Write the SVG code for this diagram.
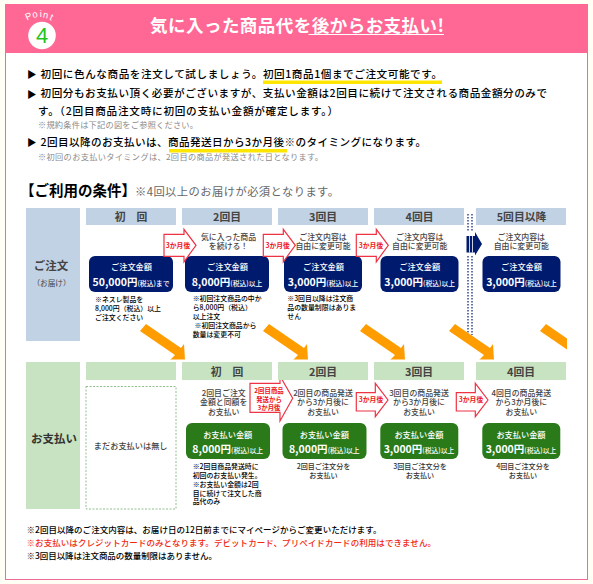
<svg xmlns="http://www.w3.org/2000/svg" width="593" height="584" viewBox="0 0 593 584">
<defs>
<style>
text{font-family:"Noto Sans CJK JP","Liberation Sans",sans-serif;fill:#333}
.b{font-weight:700}
.k{fill:#000;font-size:10.6px;font-weight:500}
.a{fill:#000;font-size:9.5px}
.s{fill:#8a8a8a;font-size:8.2px}
.m{text-anchor:middle}
.h{font-size:10.8px;font-weight:700;fill:#444;text-anchor:middle}
.d{font-size:7.9px;fill:#444;text-anchor:middle;font-weight:500}
.w{fill:#fff;text-anchor:middle}
.l{fill:#fff;text-anchor:middle;font-size:8.2px;font-weight:500}
.v{fill:#fff;text-anchor:middle;font-size:10.5px;font-weight:700}
.x{fill:#fff;font-size:6.8px;font-weight:500}
.t{fill:#000;font-size:6.9px;font-weight:500}
.r{fill:#fff;stroke:#ee3344;stroke-width:1.2}
.rt{fill:#f01020;font-size:6.8px;font-weight:700;text-anchor:middle}
.ru{fill:#f01020;font-size:6.4px;font-weight:700;text-anchor:middle}
.u{font-size:7.1px;fill:#333;text-anchor:middle;font-weight:500}
.n{fill:#000;font-size:8.5px;font-weight:500}
</style>
<clipPath id="oc"><rect x="80" y="300" width="487" height="59.500"/></clipPath>
<polygon id="oa" points="1,-1 36,23 39,19 40,35 25,35 30,30 -5,6"/>
<polygon id="ra" class="r" points="0,5 20,5 20,0 32,16 20,32.500 20,27 0,27"/>
</defs>
<rect width="593" height="584" fill="#fffff5"/>
<rect id="frame" x="5.500" y="4.500" width="582" height="575" fill="#fff" stroke="#ef6c9a" stroke-width="1"/>
<g id="header">
<rect x="5" y="4" width="583" height="49" fill="#ff6795"/>
<circle cx="42" cy="35.500" r="13.800" fill="#fff"/>
<text x="42" y="43" class="m" style="fill:#1fc41f;font-size:22px;font-family:'Liberation Sans',sans-serif">4</text>
<text x="27 33 39.800 42.500 49" y="20.500 18 17 17.500 19.500" rotate="-25 -12 0 12 25" style="fill:#fff;font-size:9.500px;font-family:'Liberation Sans',sans-serif">Point</text>
<text x="150" y="32" class="b" style="fill:#fff;font-size:17.500px" textLength="294" lengthAdjust="spacing">気に入った商品代を後からお支払い!</text>
<rect x="308.500" y="34" width="135.500" height="1" fill="#fff"/>
</g>
<g id="intro">
<rect x="263" y="80.500" width="179" height="3.500" fill="#ffe600"/>
<rect x="169" y="149" width="118" height="3.500" fill="#ffe600"/>
<text x="27" y="78" class="a">▶</text>
<text x="40.500" y="77.500" class="k" textLength="401.500" lengthAdjust="spacing">初回に色んな商品を注文して試しましょう。初回1商品1個までご注文可能です。</text>
<text x="27" y="97.500" class="a">▶</text>
<text x="40.500" y="97" class="k" textLength="506.500" lengthAdjust="spacing">初回分もお支払い頂く必要がございますが、支払い金額は2回目に続けて注文される商品金額分のみで</text>
<text x="38" y="114.500" class="k" textLength="300" lengthAdjust="spacing">す。（2回目商品注文時に初回の支払い金額が確定します。）</text>
<text x="38" y="128" class="s" textLength="160" lengthAdjust="spacing">※規約条件は下記の図をご参照ください。</text>
<text x="27" y="146" class="a">▶</text>
<text x="40.500" y="145.700" class="k" textLength="385.500" lengthAdjust="spacing">2回目以降のお支払いは、商品発送日から3か月後※のタイミングになります。</text>
<text x="38" y="160" class="s" textLength="285" lengthAdjust="spacing">※初回のお支払いタイミングは、2回目の商品が発送された日となります。</text>
</g>
<g id="condition-title">
<text x="20" y="196" class="b" style="fill:#000;font-size:14.500px">【ご利用の条件】</text>
<text x="135" y="196" style="fill:#666;font-size:11.300px" textLength="204" lengthAdjust="spacing">※4回以上のお届けが必須となります。</text>
</g>
<g id="order-row">
<rect x="26" y="208" width="54" height="133" fill="#c1d2e4"/>
<text x="51" y="270" class="m b" style="font-size:11.500px;fill:#444">ご注文</text>
<text x="51.500" y="286" class="m" style="font-size:7.600px;fill:#444">（お届け）</text>
<g fill="#c1d2e4">
<rect x="86" y="208" width="90" height="17"/><rect x="182" y="208" width="90" height="17"/><rect x="278" y="208" width="90" height="17"/><rect x="374" y="208" width="90" height="17"/><rect x="476" y="208" width="90" height="17"/>
</g>
<text x="131" y="221" class="h">初　回</text>
<text x="227" y="221" class="h">2回目</text>
<text x="323" y="221" class="h">3回目</text>
<text x="419.500" y="221" class="h">4回目</text>
<text x="521.500" y="221" class="h">5回目以降</text>
<text x="228.500" y="239.500" class="d">気に入った商品</text><text x="228.500" y="249" class="d">を続ける！</text>
<text x="323" y="239.500" class="d">ご注文内容は</text><text x="323" y="249" class="d">自由に変更可能</text>
<text x="419.700" y="239.500" class="d">ご注文内容は</text><text x="419.700" y="249" class="d">自由に変更可能</text>
<text x="521.300" y="239.500" class="d">ご注文内容は</text><text x="521.300" y="249" class="d">自由に変更可能</text>
</g>
<g id="order-amounts">
<g fill="#001a6e">
<rect x="89" y="256" width="84" height="36" rx="6"/><rect x="185" y="256" width="84" height="36" rx="6"/><rect x="284" y="256" width="78" height="36" rx="6"/><rect x="380.500" y="256" width="78" height="36" rx="6"/><rect x="482.500" y="256" width="78" height="36" rx="6"/>
</g>
<text x="131.500" y="270" class="l">ご注文金額</text>
<text x="131" y="286" class="v">50,000円<tspan class="x">(税込)まで</tspan></text>
<text x="227.500" y="270" class="l">ご注文金額</text>
<text x="227" y="286" class="v">8,000円<tspan class="x">(税込)以上</tspan></text>
<text x="323.500" y="270" class="l">ご注文金額</text>
<text x="323" y="286" class="v">3,000円<tspan class="x">(税込)以上</tspan></text>
<text x="419.700" y="270" class="l">ご注文金額</text>
<text x="419.700" y="286" class="v">3,000円<tspan class="x">(税込)以上</tspan></text>
<text x="521.500" y="270" class="l">ご注文金額</text>
<text x="521.500" y="286" class="v">3,000円<tspan class="x">(税込)以上</tspan></text>
</g>
<g id="order-notes">
<text x="95" y="301.700" class="t">※ネスレ製品を</text>
<text x="95" y="310.700" class="t">8,000円（税込）以上</text>
<text x="95" y="319.500" class="t">ご注文ください</text>
<text x="192.700" y="301" class="t">※初回注文商品の中か</text>
<text x="192.700" y="310" class="t">ら8,000円（税込）</text>
<text x="192.700" y="319" class="t">以上注文</text>
<text x="194.500" y="328.300" class="t">※初回注文商品から</text>
<text x="192.700" y="337" class="t">数量は変更不可</text>
<text x="287.300" y="301" class="t">※3回目以降は注文商</text>
<text x="287.300" y="310" class="t">品の数量制限はありま</text>
<text x="287.300" y="319" class="t">せん</text>
</g>
<g id="connectors">
<g stroke="#001a6e" stroke-width="1.200" stroke-dasharray="1.500 1.500" fill="none">
<path d="M468,214V232M472,214V232M468,256V335M472,256V335"/>
</g>
<g clip-path="url(#oc)" fill="#ff9c00">
<use href="#oa" x="145" y="325"/><use href="#oa" x="268" y="325"/><use href="#oa" x="365" y="325"/><use href="#oa" x="454" y="325"/><use href="#oa" x="545" y="325"/>
</g>
<use href="#ra" x="164" y="229.300"/><use href="#ra" x="263.300" y="229.300"/><use href="#ra" x="356.300" y="229.300"/>
<path d="M250,383.300H280V376L292.700,398.300L280,421V412.300H250Z" class="r"/>
<path d="M356.300,392.700H375.300V383.300L388,400L375.300,416.700V411H356.300Z" class="r"/>
<path d="M456.300,392.700H475.300V383.300L488,400L475.300,416.700V411H456.300Z" class="r"/>
<path d="M466.500,236H475V232L482,244L475,255.500V252.500H466.500Z" fill="#001a6e"/>
<path d="M469.500,236V252.500M472.500,236V252.500" stroke="#fff" stroke-width="0.800"/>
<text x="178" y="247.700" class="rt">3か月後</text>
<text x="277.700" y="247.700" class="rt">3か月後</text>
<text x="371" y="247.700" class="rt">3か月後</text>
<text x="269" y="393" class="ru">2回目商品</text>
<text x="269" y="401.700" class="ru">発送から</text>
<text x="269" y="410" class="ru">3か月後</text>
<text x="371" y="402" class="rt">3か月後</text>
<text x="471" y="402" class="rt">3か月後</text>
</g>
<g id="payment-row">
<rect x="26" y="362" width="54" height="147" fill="#c7e3c1"/>
<text x="54" y="443" class="m b" style="font-size:11.500px;fill:#333">お支払い</text>
<g fill="#c7e3c1">
<rect x="86" y="362" width="90" height="18"/><rect x="182" y="362" width="90" height="18"/><rect x="278" y="362" width="90" height="18"/><rect x="374" y="362" width="90" height="18"/><rect x="476" y="362" width="90" height="18"/>
</g>
<rect x="86" y="386.500" width="90" height="122.500" fill="#fff" stroke="#8fc08a" stroke-width="1" stroke-dasharray="2 1.500"/>
<text x="130.700" y="449" class="d" style="font-size:8.200px">まだお支払いは無し</text>
<text x="227" y="375.700" class="h">初　回</text>
<text x="323" y="375.700" class="h">2回目</text>
<text x="419" y="375.700" class="h">3回目</text>
<text x="521" y="375.700" class="h">4回目</text>
<text x="223.700" y="395.700" class="d">2回目ご注文</text><text x="223.700" y="405.300" class="d">金額と同額を</text><text x="223.700" y="415" class="d">お支払い</text>
<text x="323" y="395.700" class="d">2回目の商品発送</text><text x="323" y="405.300" class="d">から3か月後に</text><text x="323" y="415" class="d">お支払い</text>
<text x="419" y="395.700" class="d">3回目の商品発送</text><text x="419" y="405.300" class="d">から3か月後に</text><text x="419" y="415" class="d">お支払い</text>
<text x="521.300" y="395.700" class="d">4回目の商品発送</text><text x="521.300" y="405.300" class="d">から3か月後に</text><text x="521.300" y="415" class="d">お支払い</text>
</g>
<g id="payment-amounts">
<g fill="#2a7a1a">
<rect x="186" y="423" width="84" height="36" rx="6"/><rect x="282.500" y="423" width="84" height="36" rx="6"/><rect x="380.300" y="423" width="78" height="36" rx="6"/><rect x="482.300" y="423" width="78" height="36" rx="6"/>
</g>
<text x="227.700" y="437.700" class="l">お支払い金額</text>
<text x="227.700" y="453" class="v">8,000円<tspan class="x">(税込)以上</tspan></text>
<text x="324.300" y="437.700" class="l">お支払い金額</text>
<text x="324.300" y="453" class="v">8,000円<tspan class="x">(税込)以上</tspan></text>
<text x="419" y="437.700" class="l">お支払い金額</text>
<text x="419" y="453" class="v">3,000円<tspan class="x">(税込)以上</tspan></text>
<text x="521" y="437.700" class="l">お支払い金額</text>
<text x="521" y="453" class="v">3,000円<tspan class="x">(税込)以上</tspan></text>
</g>
<g id="payment-notes">
<text x="192.700" y="469" class="t">※2回目商品発送時に</text>
<text x="192.700" y="477.700" class="t">初回のお支払い発生。</text>
<text x="192.700" y="486.500" class="t">※お支払い金額は2回</text>
<text x="192.700" y="495.500" class="t">目に続けて注文した商</text>
<text x="192.700" y="504" class="t">品代のみ</text>
<text x="323.500" y="469" class="u">2回目ご注文分を</text><text x="323.500" y="478" class="u">お支払い</text>
<text x="420" y="469" class="u">3回目ご注文分を</text><text x="420" y="478" class="u">お支払い</text>
<text x="523" y="469" class="u">4回目ご注文分を</text><text x="523" y="478" class="u">お支払い</text>
</g>
<g id="footnotes">
<text x="26.500" y="533" class="n" textLength="355" lengthAdjust="spacing">※2回目以降のご注文内容は、お届け日の12日前までにマイページからご変更いただけます。</text>
<text x="26.500" y="546" class="n b" style="fill:#f02810" textLength="409.500" lengthAdjust="spacing">※お支払いはクレジットカードのみとなります。デビットカード、プリペイドカードの利用はできません。</text>
<text x="26.500" y="559" class="n" textLength="190.500" lengthAdjust="spacing">※3回目以降は注文商品の数量制限はありません。</text>
</g>
</svg>
